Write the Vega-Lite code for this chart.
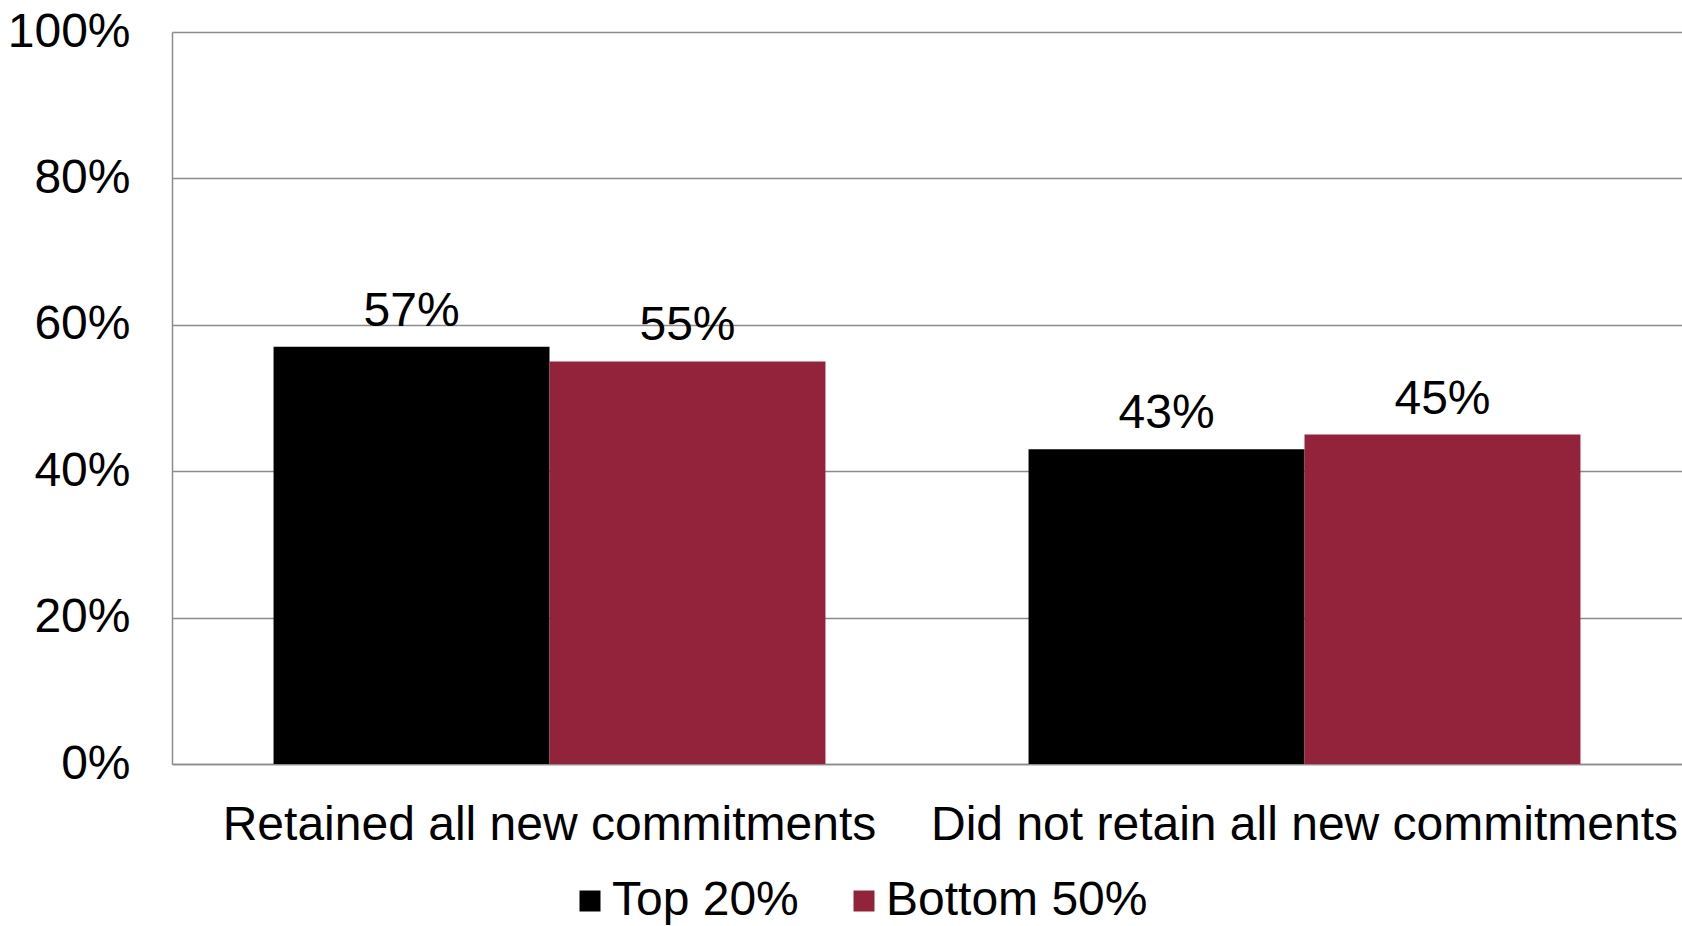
{
  "$schema": "https://vega.github.io/schema/vega-lite/v6.json",
  "width": 1510,
  "height": 732,
  "autosize": {"type": "none"},
  "padding": {"left": 172, "top": 32, "right": 0, "bottom": 162},
  "background": "white",
  "config": {"view": {"stroke": null}, "font": "Liberation Sans"},
  "data": {
    "values": [
      {"category": "Retained all new commitments", "group": "Top 20%", "value": 0.57},
      {"category": "Retained all new commitments", "group": "Bottom 50%", "value": 0.55},
      {"category": "Did not retain all new commitments", "group": "Top 20%", "value": 0.43},
      {"category": "Did not retain all new commitments", "group": "Bottom 50%", "value": 0.45}
    ]
  },
  "encoding": {
    "x": {
      "field": "category",
      "type": "nominal",
      "sort": ["Retained all new commitments", "Did not retain all new commitments"],
      "scale": {"paddingInner": 0.269, "paddingOuter": 0.1345},
      "axis": {
        "title": null,
        "labelAngle": 0,
        "ticks": false,
        "labelFontSize": 48,
        "labelColor": "black",
        "labelPadding": 37,
        "labelLimit": 0,
        "domainColor": "#8c8c8c",
        "domainWidth": 1.5,
        "grid": false
      }
    },
    "xOffset": {
      "field": "group",
      "type": "nominal",
      "sort": ["Top 20%", "Bottom 50%"],
      "scale": {"paddingInner": 0, "paddingOuter": 0}
    },
    "y": {
      "field": "value",
      "type": "quantitative",
      "scale": {"domain": [0, 1]},
      "axis": {
        "title": null,
        "format": ".0%",
        "values": [0, 0.2, 0.4, 0.6, 0.8, 1],
        "ticks": false,
        "labelFontSize": 48,
        "labelColor": "black",
        "labelPadding": 42,
        "domainColor": "#8c8c8c",
        "domainWidth": 1.5,
        "gridColor": "#8c8c8c",
        "gridWidth": 1.5
      }
    }
  },
  "layer": [
    {
      "mark": {"type": "bar"},
      "encoding": {
        "color": {
          "field": "group",
          "type": "nominal",
          "sort": ["Top 20%", "Bottom 50%"],
          "scale": {"domain": ["Top 20%", "Bottom 50%"], "range": ["#000000", "#92233a"]},
          "legend": {
            "title": null,
            "orient": "none",
            "direction": "horizontal",
            "legendX": 394,
            "legendY": 845,
            "symbolType": "square",
            "symbolSize": 441,
            "symbolStrokeWidth": 0,
            "labelFontSize": 48,
            "labelColor": "black",
            "labelLimit": 0,
            "labelOffset": -2,
            "columnPadding": 41
          }
        }
      }
    },
    {
      "mark": {"type": "text", "fontSize": 48, "baseline": "alphabetic", "dy": -21, "color": "black"},
      "encoding": {
        "text": {"field": "value", "type": "quantitative", "format": ".0%"}
      }
    }
  ]
}
